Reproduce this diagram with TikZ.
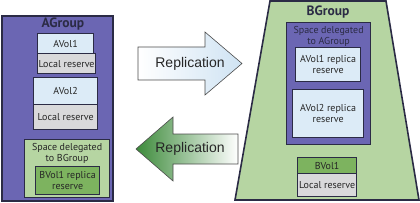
\documentclass[tikz,border=0pt]{standalone}
\usepackage{fontspec}
\setmainfont{PT Sans}
\newfontfamily\arialfont{Liberation Sans}
\usetikzlibrary{positioning}
\definecolor{grpurple}{HTML}{6B66B3}
\definecolor{grgreen}{HTML}{B6D5A2}
\definecolor{volblue}{HTML}{DCEBF7}
\definecolor{resgray}{HTML}{D9D9DB}
\definecolor{repgreen}{HTML}{7DB35F}
\definecolor{edgedark}{HTML}{2B2B45}
\definecolor{arrowblue}{HTML}{CFE3F3}
\definecolor{arrowgreen}{HTML}{3C8A3A}

\begin{document}
\begin{tikzpicture}[
  x=1pt,y=-1pt,
  font=\fontsize{10}{11}\selectfont,
  box/.style={draw=edgedark,line width=1.2pt,anchor=north west,inner sep=1pt,align=center,text=black!85},
  grp/.style={draw=edgedark,line width=1.6pt},
  title/.style={font=\fontsize{13.5}{15}\selectfont\bfseries,text=edgedark},
  replbl/.style={font=\arialfont\fontsize{14}{16}\selectfont,text=black!85},
  blockarr/.style={draw=black!70,line width=0.6pt}
]
\useasboundingbox (0,0) rectangle (420,203);

% left group
\node[box,grp,fill=grpurple,minimum width=111pt,minimum height=185pt] (agroup) at (1,15) {};
\node[title] (atitle) at (63,24.5) {AGroup};
\node[box,fill=volblue,minimum width=56pt,minimum height=20pt] (avol1) at (37,33) {AVol1};
\node[box,fill=resgray,minimum width=56pt,minimum height=20pt] (ares1) at (37,53) {Local reserve};
\node[box,fill=volblue,minimum width=64pt,minimum height=27pt] (avol2) at (33,77) {AVol2};
\node[box,fill=resgray,minimum width=64pt,minimum height=25pt] (ares2) at (33,104) {Local reserve};
\node[box,fill=grgreen,minimum width=85pt,minimum height=58pt] (bspace) at (24,139) {};
\node[align=center,below=0.5pt of bspace.north,text=black!85] (bspacelbl) {Space delegated\\to BGroup};
\node[box,fill=repgreen,minimum width=64pt,minimum height=28pt] (brep) at (35,166) {BVol1 replica\\reserve};

% right group
\draw[grp,fill=grgreen] (270,1) -- (386,1) -- (419,200) -- (235,200) -- cycle;
\node[title] (btitle) at (328,12) {BGroup};
\node[box,fill=grpurple,minimum width=84pt,minimum height=122pt] (aspace) at (286,22) {};
\node[align=center,below=0.5pt of aspace.north,text=edgedark] (aspacelbl) {Space delegated\\to AGroup};
\node[box,fill=volblue,minimum width=65pt,minimum height=34pt] (arep1) at (295,47) {AVol1 replica\\reserve};
\node[box,fill=volblue,minimum width=71pt,minimum height=48pt] (arep2) at (292,89) {AVol2 replica\\reserve};
\node[box,fill=repgreen,minimum width=59pt,minimum height=16pt] (bvol1) at (297,157) {BVol1};
\node[box,fill=resgray,minimum width=59pt,minimum height=23pt] (bres1) at (297,173) {Local reserve};

% replication arrows
\shade[blockarr,left color=white,right color=arrowblue]
  (138,47) -- (205,47) -- (205,32) -- (242,63.5) -- (205,95) -- (205,80) -- (138,80) -- cycle;
\node[replbl] (repr) at (190,63.5) {Replication};
\shade[blockarr,left color=arrowgreen,right color=white]
  (136,149) -- (173,117) -- (173,134) -- (238,134) -- (238,164) -- (173,164) -- (173,181) -- cycle;
\node[replbl] (repl) at (190,148.5) {Replication};
\end{tikzpicture}
\end{document}
